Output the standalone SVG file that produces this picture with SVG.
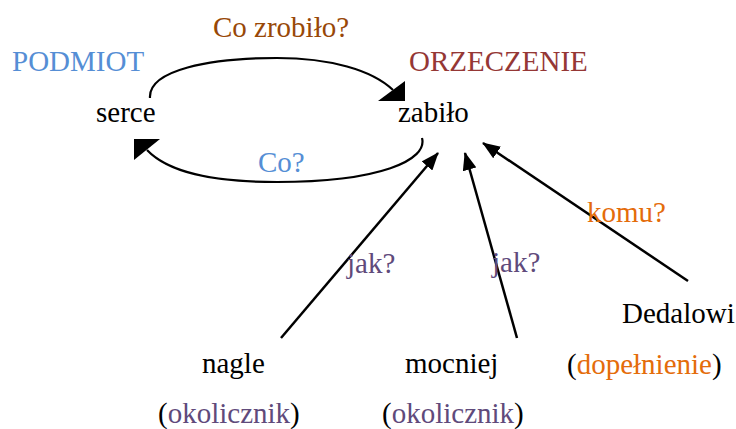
<svg xmlns="http://www.w3.org/2000/svg" width="736" height="429" viewBox="0 0 736 429">
<style>
text{font-family:"Liberation Serif","Times New Roman",serif;font-size:29px;fill:#000}
.blue{fill:#558ED5}.brown{fill:#984807}.red{fill:#953735}.purple{fill:#604A7B}.orange{fill:#E46C0A}
.c{fill:none;stroke:#000;stroke-width:2.2}
.s{fill:none;stroke:#000;stroke-width:2.5}
.head{fill:#000}
</style>
<defs>
<marker id="arr" markerUnits="userSpaceOnUse" markerWidth="18" markerHeight="14" refX="17" refY="7" orient="auto" viewBox="0 0 18 14">
<path d="M0,0 L18,7 L0,14 z" fill="#000"/>
</marker>
</defs>
<g id="connectors">
<path class="c" d="M150,98 C148,70 210,58 277,58 C330,58 372,70 393,90"/>
<polygon class="head" points="378,101 405,81 405,101"/>
<path class="c" d="M422,138 C428,160 380,182 277,182 C210,182 168,172 147,150"/>
<polygon class="head" points="134,139 160,139 134,160"/>
<line class="s" x1="281" y1="338" x2="438" y2="153" marker-end="url(#arr)"/>
<line class="s" x1="517" y1="338" x2="465" y2="153" marker-end="url(#arr)"/>
<line class="s" x1="688" y1="281" x2="483" y2="143" marker-end="url(#arr)"/>
</g>
<g id="label-co-zrobilo"><text class="brown" x="213" y="37">Co zrobiło?</text></g>
<g id="label-co"><text class="blue" x="258" y="172">Co?</text></g>
<g id="label-jak1"><text class="purple" x="347" y="273">jak?</text></g>
<g id="label-jak2"><text class="purple" x="492" y="272">jak?</text></g>
<g id="label-komu"><text class="orange" x="587" y="222">komu?</text></g>
<g id="node-serce">
<text class="blue" x="12" y="71">PODMIOT</text>
<text x="96" y="122">serce</text>
</g>
<g id="node-zabilo">
<text class="red" x="409" y="71">ORZECZENIE</text>
<text x="398" y="122">zabiło</text>
</g>
<g id="node-nagle">
<text x="202" y="373">nagle</text>
<text x="158" y="423">(<tspan class="purple">okolicznik</tspan>)</text>
</g>
<g id="node-mocniej">
<text x="405" y="373">mocniej</text>
<text x="382" y="423">(<tspan class="purple">okolicznik</tspan>)</text>
</g>
<g id="node-dedalowi">
<text x="622" y="323">Dedalowi</text>
<text x="567" y="374">(<tspan class="orange">dopełnienie</tspan>)</text>
</g>
</svg>
